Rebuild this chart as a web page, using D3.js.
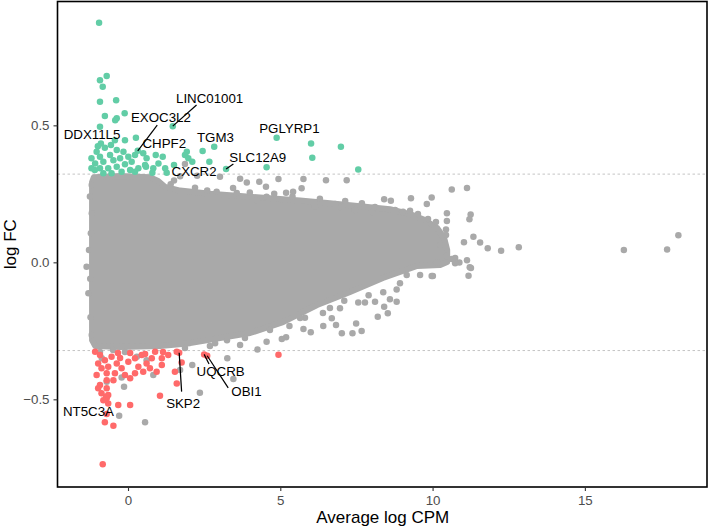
<!DOCTYPE html>
<html><head><meta charset="utf-8">
<script src="https://cdn.jsdelivr.net/npm/d3@7"></script>
<style>body{margin:0;background:#fff}svg{display:block}</style>
</head><body>
<svg id="c" width="709" height="528"></svg>
<script>
// ---------- data (Average log CPM, log FC) ----------
const xTicks = [0, 5, 10, 15];
const yTicks = [-0.5, 0.0, 0.5];
const fcThreshold = 0.322;

// dense gray cloud envelope (upper and lower edge of the non‑significant genes)
const cloudUpper = [[-1.18,0.293],[-1.12,0.311],[-0.26,0.315],[0.72,0.311],[0.99,0.297],[1.22,0.275],
  [1.71,0.262],[2.69,0.250],[3.68,0.242],[4.66,0.234],[5.65,0.226],[6.63,0.216],[7.62,0.205],
  [8.60,0.194],[9.26,0.176],[9.75,0.154],[10.15,0.125],[10.38,0.089],[10.48,0.045],[10.48,0.001]];
const cloudLower = [[10.25,-0.010],[9.49,-0.013],[8.37,-0.057],[7.29,-0.108],[6.21,-0.156],
  [5.09,-0.218],[4.01,-0.258],[3.02,-0.276],[2.04,-0.295],[1.05,-0.305],[-0.26,-0.309],
  [-1.08,-0.305],[-1.18,-0.284]];

// non‑significant genes outside the dense cloud
const otherGenes = [
  [1.51,0.299],[1.71,0.314],[1.87,0.359],[2.27,0.316],[3.02,0.312],[3.68,0.305],[3.90,0.291],
  [4.31,0.294],[4.53,0.276],[4.94,0.304],[5.19,0.254],[5.42,0.258],[5.70,0.270],[5.76,0.304],
  [6.50,0.300],[7.18,0.300],[2.91,0.258],[3.45,0.271],[3.57,0.253],[4.23,0.227],[4.55,0.239],
  [8.41,0.230],[8.63,0.225],[9.29,0.234],[9.97,0.237],[9.81,0.213],[9.03,0.185],[9.26,0.188],
  [10.63,0.266],[11.13,0.271],[10.47,0.179],[11.25,0.175],[11.21,0.157],[10.47,0.151],
  [10.44,0.120],[11.34,0.093],[11.03,0.073],[11.56,0.072],[11.81,0.051],[12.25,0.042],
  [12.83,0.055],[16.28,0.045],[17.70,0.047],[18.07,0.099],[10.88,-0.001],[11.22,-0.018],
  [11.18,-0.049],[10.74,0.016],[10.14,-0.001],[10.01,-0.050],[9.15,-0.046],
  [7.45,0.191],[8.01,0.184],[6.96,0.202],[6.14,0.205],
  [6.80,0.213],[7.13,0.224],[7.68,0.216],[8.11,0.202],[8.77,0.191],[9.52,0.176],[9.85,0.158],
  [10.11,0.147],[10.44,0.023],[10.63,0.012],[10.74,-0.003],[11.13,0.008],[11.26,-0.021],
  [10.44,0.100],[10.25,0.063],[2.20,0.272],[2.60,0.262],[4.00,0.255],[4.80,0.250],[5.40,0.240],
  [6.30,0.232],[1.40,0.285],
  [9.97,-0.050],[8.82,-0.099],[8.82,-0.144],[8.60,-0.135],[8.38,-0.109],[8.11,-0.144],
  [7.78,-0.147],[7.56,-0.147],[8.53,-0.186],[8.20,-0.199],[8.41,-0.162],[7.67,-0.251],
  [7.49,-0.223],[7.37,-0.259],[7.02,-0.259],[6.96,-0.168],[6.83,-0.229],[6.69,-0.204],
  [6.41,-0.232],[6.00,-0.255],[5.81,-0.202],[5.76,-0.243],[5.19,-0.273],[5.05,-0.280],
  [4.55,-0.290],[4.25,-0.318],[3.68,-0.302],[3.25,-0.284],[2.69,-0.305],
  [6.63,-0.167],[5.65,-0.203],[4.66,-0.247],[3.84,-0.276],[2.86,-0.295],[1.87,-0.313],
  [8.93,-0.076],[9.59,-0.046],[7.90,-0.120],[7.10,-0.140],[6.40,-0.185],[5.30,-0.232],
  [-1.36,-0.016],[-1.22,0.106],[-1.19,0.179],[-1.19,0.282],[-1.19,-0.265],[-1.30,-0.113],
  [-1.28,0.045],[-1.25,0.240],[-1.24,-0.060],[-1.23,-0.200],
  [2.11,-0.375],[3.26,-0.350],[3.46,-0.426],[2.36,-0.476],[1.71,-0.393],[0.56,-0.584],
  [-0.29,-0.560],[-0.13,-0.454],[-0.21,-0.420],[0.83,-0.411],[-0.70,-0.436],[0.61,-0.357],
  [0.29,-0.345],[-0.86,-0.350],[-0.92,-0.327],[-0.49,-0.320],[-0.10,-0.327]];

// up‑regulated genes
const upGenes = [
  [-0.95,0.874],[-0.92,0.665],[-0.70,0.680],[-0.83,0.641],[-0.92,0.586],[-0.39,0.592],
  [-0.11,0.544],[-0.76,0.534],[-0.37,0.526],[-0.42,0.519],[-0.92,0.495],[1.47,0.497],
  [0.26,0.455],[4.88,0.455],[6.01,0.434],[6.05,0.382],[6.99,0.422],[7.56,0.339],[2.83,0.422],
  [2.45,0.406],[1.93,0.404],[1.87,0.392],[1.98,0.380],[2.11,0.367],[2.67,0.367],[3.22,0.341],
  [4.55,0.347],[1.51,0.355],[1.27,0.327],[1.14,0.385],[0.91,0.392],[0.59,0.349],[0.80,0.327],
  [0.34,0.343],[0.50,0.398],[0.32,0.407],[-0.10,0.446],[-0.76,0.418],[-0.56,0.428],
  [-0.37,0.410],[-0.15,0.404],[-0.59,0.392],[-0.92,0.385],[-1.20,0.380],[-1.08,0.361],
  [-0.81,0.367],[-0.48,0.373],[-0.26,0.380],[0.01,0.385],[0.23,0.392],[0.12,0.367],
  [-0.10,0.358],[-0.37,0.349],[-0.65,0.343],[-0.92,0.343],[-1.20,0.343],[-0.21,0.331],
  [0.07,0.337],[0.61,0.380],[0.56,0.355],[1.00,0.361],[0.83,0.343],[1.22,0.343],[0.23,0.331],
  [-0.54,0.325],[-0.81,0.325],[-1.03,0.404],[-0.89,0.434],[-0.43,0.446],[-1.09,0.337],
  [-0.99,0.424]];

// down‑regulated genes
const downGenes = [
  [-0.92,-0.338],[-0.76,-0.357],[-0.54,-0.345],[-0.37,-0.369],[-0.65,-0.381],[-0.87,-0.387],
  [-0.98,-0.369],[-1.03,-0.411],[-0.70,-0.405],[-0.43,-0.405],[-0.21,-0.387],[-0.10,-0.411],
  [-0.48,-0.430],[-0.70,-0.430],[-0.92,-0.448],[-0.70,-0.460],[-0.87,-0.478],[-0.65,-0.484],
  [-0.70,-0.496],[0.01,-0.363],[0.23,-0.350],[0.45,-0.338],[0.34,-0.381],[0.61,-0.369],
  [0.78,-0.350],[0.89,-0.326],[1.11,-0.350],[1.32,-0.338],[1.60,-0.326],[0.50,-0.399],
  [0.23,-0.405],[0.07,-0.423],[0.72,-0.387],[0.94,-0.399],[1.11,-0.375],[-0.32,-0.521],
  [0.07,-0.521],[1.54,-0.399],[1.60,-0.442],[-1.08,-0.326],[-0.98,-0.460],[-0.72,-0.491],
  [-0.81,-0.503],[-0.65,-0.515],[-0.70,-0.554],[-0.76,-0.584],[-0.48,-0.596],[-0.83,-0.737],
  [1.05,-0.487],[1.68,-0.330],[1.76,-0.366],[2.50,-0.336],[2.60,-0.341],[4.94,-0.337],
  [-0.26,-0.349],[0.07,-0.331],[-0.33,-0.331],[0.56,-0.335],[1.15,-0.327]];

// labelled genes: name, point, label centre, optional segment start
const geneLabels = [
  {gene:"LINC01001", px:1.47, py:0.497, lx:2.68, ly:0.600, sx:2.25, sy:0.574},
  {gene:"EXOC3L2",   px:0.32, py:0.407, lx:1.08, ly:0.528, sx:0.96, sy:0.501},
  {gene:"CHPF2",     px:0.91, py:0.392, lx:1.19, ly:0.434},
  {gene:"TGM3",      px:2.83, py:0.422, lx:2.87, ly:0.458},
  {gene:"DDX11L5",   px:-0.92,py:0.495, lx:-1.18,ly:0.468},
  {gene:"PGLYRP1",   px:4.88, py:0.455, lx:5.30, ly:0.489},
  {gene:"SLC12A9",   px:3.22, py:0.341, lx:4.26, ly:0.385, sx:3.46, sy:0.359},
  {gene:"CXCR2",     px:1.51, py:0.355, lx:2.17, ly:0.333},
  {gene:"SKP2",      px:1.68, py:-0.330,lx:1.81, ly:-0.515, sx:1.76, sy:-0.472},
  {gene:"UQCRB",     px:2.50, py:-0.336,lx:3.04, ly:-0.397, sx:2.66, sy:-0.371},
  {gene:"OBI1",      px:2.60, py:-0.341,lx:3.89, ly:-0.470, sx:3.29, sy:-0.458},
  {gene:"NT5C3A",    px:-0.83,py:-0.737,lx:-1.30,ly:-0.542}
];

// ---------- drawing ----------
const svg = d3.select("#c");
const L = 57.5, R = 707, T = 1.5, B = 487;
const x = d3.scaleLinear().domain([-2.315, 19.01]).range([L, R]);
const y = d3.scaleLinear().domain([-0.820, 0.952]).range([B, T]);
const gray = "#A9A9A9", green = "#62CDA6", red = "#FF6A6A";
const r = 3.25;

const clipId = "pc";
svg.append("clipPath").attr("id", clipId).append("rect")
  .attr("x", L).attr("y", T).attr("width", R - L).attr("height", B - T);
const plot = svg.append("g").attr("clip-path", `url(#${clipId})`);

// threshold lines
[fcThreshold, -fcThreshold].forEach(v => {
  plot.append("line").attr("x1", L).attr("x2", R).attr("y1", y(v)).attr("y2", y(v))
    .attr("stroke", "#C4C4C4").attr("stroke-width", 1).attr("stroke-dasharray", "2.5,2.5");
});

// dense cloud
const cloud = cloudUpper.concat(cloudLower);
plot.append("path")
  .attr("d", d3.line().x(d => x(d[0])).y(d => y(d[1])).curve(d3.curveLinearClosed)(cloud))
  .attr("fill", gray).attr("stroke", gray).attr("stroke-width", 6).attr("stroke-linejoin", "round");

function dots(data, col) {
  plot.append("g").selectAll("circle").data(data).join("circle")
    .attr("cx", d => x(d[0])).attr("cy", d => y(d[1])).attr("r", r).attr("fill", col);
}
dots(otherGenes, gray);
dots(downGenes, red);
dots(upGenes, green);

// labels
const lab = svg.append("g").attr("font-family", "Liberation Sans, Arial, sans-serif")
  .attr("font-size", 13.3).attr("fill", "#000");
geneLabels.forEach(d => {
  if (d.sx !== undefined) {
    lab.append("line").attr("x1", x(d.sx)).attr("y1", y(d.sy)).attr("x2", x(d.px)).attr("y2", y(d.py))
      .attr("stroke", "#000").attr("stroke-width", 1.2);
  }
  lab.append("text").attr("x", x(d.lx)).attr("y", y(d.ly)).attr("dy", "0.36em")
    .attr("text-anchor", "middle").text(d.gene);
});

// panel border
svg.append("rect").attr("x", L).attr("y", T).attr("width", R - L).attr("height", B - T)
  .attr("fill", "none").attr("stroke", "#000").attr("stroke-width", 1.6);

// axes
const xa = svg.append("g").attr("transform", `translate(0,${B})`)
  .call(d3.axisBottom(x).tickValues(xTicks).tickSize(4).tickPadding(5).tickFormat(d3.format("d")));
const ya = svg.append("g").attr("transform", `translate(${L},0)`)
  .call(d3.axisLeft(y).tickValues(yTicks).tickSize(4).tickPadding(4)
    .tickFormat(d => d === 0 ? "0.0" : d3.format(".1f")(d).replace("-", "\u2212")));
[xa, ya].forEach(a => {
  a.select(".domain").remove();
  a.selectAll(".tick line").attr("stroke", "#333").attr("stroke-width", 1.1);
  a.selectAll(".tick text").attr("fill", "#4D4D4D").attr("font-size", 13.3)
    .attr("font-family", "Liberation Sans, Arial, sans-serif");
});

svg.append("text").attr("x", (L + R) / 2 + 0.5).attr("y", 523).attr("text-anchor", "middle")
  .attr("font-family", "Liberation Sans, Arial, sans-serif").attr("font-size", 17)
  .text("Average log CPM");
svg.append("text").attr("transform", `translate(16,${(T + B) / 2}) rotate(-90)`)
  .attr("text-anchor", "middle").attr("font-family", "Liberation Sans, Arial, sans-serif")
  .attr("font-size", 17).text("log FC");
</script>
</body></html>
